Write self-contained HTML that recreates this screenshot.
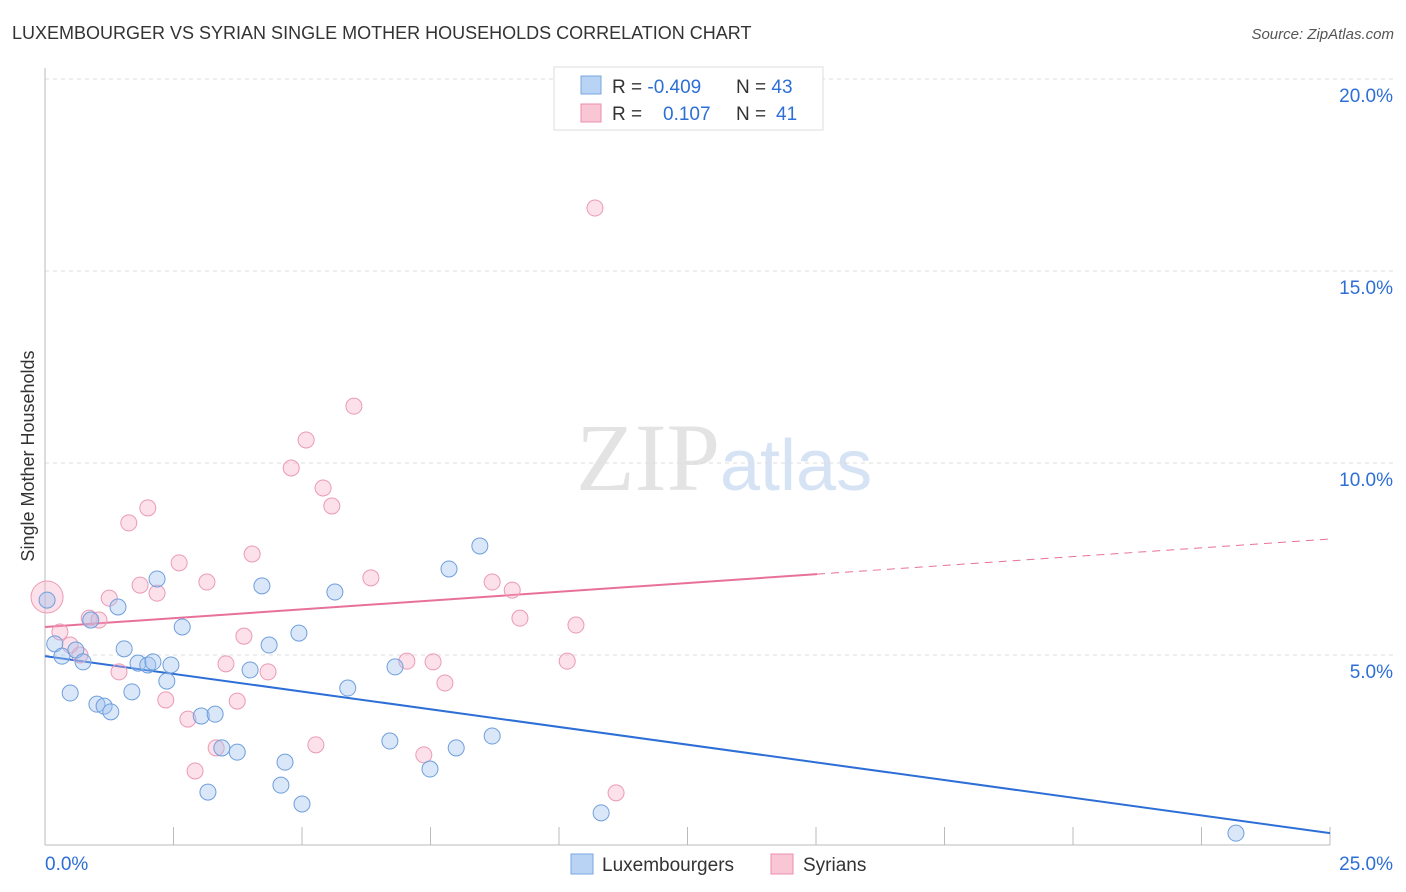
<!DOCTYPE html>
<html><head><meta charset="utf-8"><style>
body{margin:0;background:#fff;font-family:"Liberation Sans",sans-serif;}
svg{display:block}
</style></head><body>
<svg id="chart" width="1406" height="892" xmlns="http://www.w3.org/2000/svg">
<text x="12" y="39" font-size="18" fill="#333">LUXEMBOURGER VS SYRIAN SINGLE MOTHER HOUSEHOLDS CORRELATION CHART</text>
<text x="1394" y="39" font-size="15" fill="#555" text-anchor="end" font-style="italic">Source: ZipAtlas.com</text>
<text x="720" y="490" font-size="96" fill="#e3e3e3" text-anchor="end" font-family="Liberation Serif">ZIP</text>
<text x="720" y="490" font-size="72" fill="#d5e3f5">atlas</text>
<text transform="translate(34,456) rotate(-90)" font-size="18" fill="#333" text-anchor="middle">Single Mother Households</text>
<g id="grid"></g><g id="axes"></g><g id="trend"></g><g id="points"></g>
<g>
<rect x="554" y="67" width="269" height="63" fill="#fff" stroke="#ddd"/>
<rect x="581" y="76" width="20" height="18" fill="#b8d3f3" stroke="#7aa7e0"/>
<rect x="581" y="104" width="20" height="18" fill="#f9c6d6" stroke="#eb8fae"/>
<text x="612" y="93" font-size="19" fill="#333">R = <tspan fill="#2d6fd6">-0.409</tspan><tspan x="736">N = </tspan><tspan fill="#2d6fd6">43</tspan></text>
<text x="612" y="120" font-size="19" fill="#333">R = <tspan x="663" fill="#2d6fd6">0.107</tspan><tspan x="736">N = </tspan><tspan x="776" fill="#2d6fd6">41</tspan></text>
</g>
<g>
<rect x="571" y="854" width="22" height="20" fill="#b8d3f3" stroke="#7aa7e0"/>
<text x="602" y="871" font-size="19" fill="#333">Luxembourgers</text>
<rect x="771" y="854" width="22" height="20" fill="#f9c6d6" stroke="#eb8fae"/>
<text x="803" y="871" font-size="19" fill="#333">Syrians</text>
</g>
</svg>
<script>
const blueX=[0.04,0.19,0.33,0.49,0.60,0.74,1.01,1.15,1.28,1.42,1.54,1.69,1.81,2.00,2.10,2.18,2.37,2.45,2.67,3.04,3.17,3.31,3.44,3.74,3.99,4.22,4.36,4.67,4.59,4.94,5.00,5.64,5.89,6.71,6.81,7.49,7.86,8.00,8.46,8.70,10.82,23.17,0.89];
const blueY=[6.43,5.29,4.97,4.01,5.13,4.82,3.72,3.67,3.52,6.25,5.16,4.04,4.79,4.74,4.82,6.98,4.32,4.74,5.73,3.41,1.43,3.46,2.58,2.47,4.61,6.80,5.26,2.21,1.61,5.57,1.12,6.64,4.14,2.76,4.69,2.03,7.24,2.58,7.84,2.89,0.89,0.36,5.91];
const pinkX=[0.04,0.29,0.49,0.68,0.86,1.05,1.25,1.44,1.63,1.85,2.00,2.18,2.35,2.61,2.78,2.92,3.15,3.33,3.52,3.74,3.87,4.03,4.34,4.79,5.08,5.27,5.41,5.58,6.01,6.34,7.04,7.37,7.55,7.78,8.70,9.09,9.24,10.16,10.33,10.70,11.11];
const pinkY=[6.51,5.60,5.26,5.00,5.96,5.91,6.48,4.56,8.44,6.82,8.83,6.61,3.83,7.40,3.33,1.98,6.90,2.58,4.77,3.80,5.49,7.63,4.56,9.87,10.60,2.66,9.35,8.88,11.48,7.01,4.84,2.40,4.82,4.27,6.90,6.69,5.96,4.84,5.78,16.64,1.41];
const yTicks=[5,10,15,20];
const yTickLabels=["5.0%","10.0%","15.0%","20.0%"];
const xTicks=[0,2.5,5,7.5,10,12.5,15,17.5,20,22.5,25];
const blueTrend=[4.97,0.36];
const pinkTrend=[5.73,8.02];
const pinkSolidEnd=15.02;
const NS="http://www.w3.org/2000/svg";
const sx=v=>45+v*51.4, sy=v=>847-v*38.4;
function mk(t,a,p){const e=document.createElementNS(NS,t);for(const k in a)e.setAttribute(k,a[k]);p.appendChild(e);return e;}
const grid=document.getElementById('grid'),axes=document.getElementById('axes'),tr=document.getElementById('trend'),pts=document.getElementById('points');
yTicks.forEach((v,i)=>{
 const l=mk('line',{x1:45,x2:1393,y1:sy(v),y2:sy(v),stroke:'#ddd','stroke-dasharray':'4,4'},grid);
 
 
 const t=mk('text',{x:1393,y:sy(v)+23,'font-size':19,fill:'#2d6fd6','text-anchor':'end'},grid);t.textContent=yTickLabels[i];
 
 
});
const ax=mk('line',{x1:45,x2:45,y1:68,y2:845,stroke:'#bbb'},axes);


const bx=mk('line',{x1:45,x2:1330,y1:845,y2:845,stroke:'#bbb'},axes);


xTicks.forEach(v=>{const l=mk('line',{x1:sx(v),x2:sx(v),y1:827,y2:845,stroke:'#bbb'},axes);
 
 });
const x0=mk('text',{x:45,y:870,'font-size':19,fill:'#2d6fd6'},axes);x0.textContent='0.0%';


const x1=mk('text',{x:1393,y:870,'font-size':19,fill:'#2d6fd6','text-anchor':'end'},axes);x1.textContent='25.0%';


const pAt=x=>pinkTrend[0]+(pinkTrend[1]-pinkTrend[0])*x/25;
let b=mk('line',{x1:sx(0),y1:sy(blueTrend[0]),x2:sx(25),y2:sy(blueTrend[1]),stroke:'#2d6fd6','stroke-width':2},tr);


let p=mk('line',{x1:sx(0),y1:sy(pAt(0)),x2:sx(pinkSolidEnd),y2:sy(pAt(pinkSolidEnd)),stroke:'#e8719a','stroke-width':2},tr);


let pd=mk('line',{x1:sx(pinkSolidEnd),y1:sy(pAt(pinkSolidEnd)),x2:sx(25),y2:sy(pAt(25)),stroke:'#e8719a','stroke-width':1,'stroke-dasharray':'8,6'},tr);


pinkX.forEach((x,i)=>{const c=mk('circle',{cx:sx(x),cy:sy(pinkY[i]),r:i===0?16:8,fill:'rgba(245,170,195,0.35)',stroke:'#eb9ab5','stroke-width':1},pts);
 
 });
blueX.forEach((x,i)=>{const c=mk('circle',{cx:sx(x),cy:sy(blueY[i]),r:8,fill:'rgba(160,195,240,0.4)',stroke:'#6f9fdc','stroke-width':1},pts);
 
 });
</script>
</body></html>
